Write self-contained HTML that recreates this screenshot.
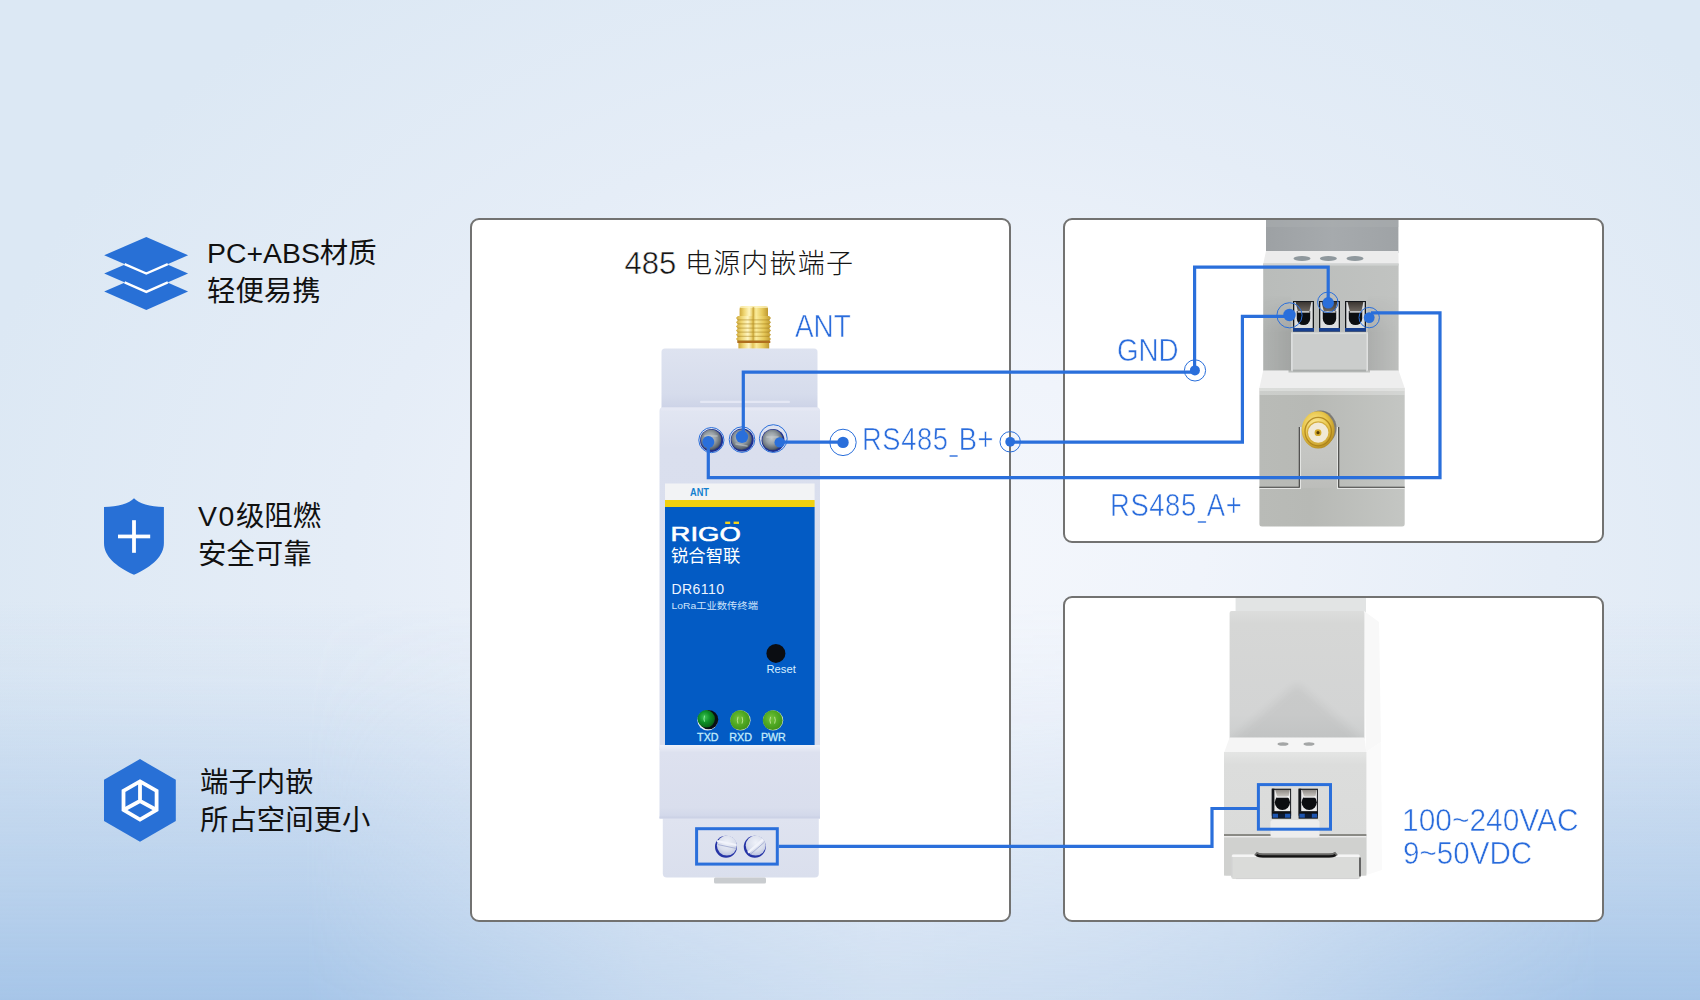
<!DOCTYPE html>
<html lang="zh-CN">
<head>
<meta charset="utf-8">
<title>485 电源内嵌端子</title>
<style>
html,body{margin:0;padding:0}
body{width:1700px;height:1000px;overflow:hidden;position:relative;
  font-family:"Liberation Sans","Noto Sans CJK SC",sans-serif;
  background:radial-gradient(ellipse 1000px 720px at 952px 550px,#f4f7fc 0%,#f0f4fb 25%,#e5edf7 60%,#dce8f4 100%);
}
#bgblue{position:absolute;left:0;top:0;width:1700px;height:1000px;
  background:linear-gradient(180deg,rgba(166,197,232,0) 60%,rgba(166,197,232,.1) 68%,rgba(166,197,232,.3) 75%,rgba(166,197,232,.65) 88.7%,rgba(166,197,232,1) 100%);
  -webkit-mask-image:linear-gradient(90deg,#000 0%,#000 18%,rgba(0,0,0,.75) 26.5%,rgba(0,0,0,.48) 38%,rgba(0,0,0,.32) 52%,rgba(0,0,0,.4) 65%,rgba(0,0,0,.5) 73.5%,rgba(0,0,0,.78) 85%,#000 94%,#000 100%);
  mask-image:linear-gradient(90deg,#000 0%,#000 18%,rgba(0,0,0,.75) 26.5%,rgba(0,0,0,.48) 38%,rgba(0,0,0,.32) 52%,rgba(0,0,0,.4) 65%,rgba(0,0,0,.5) 73.5%,rgba(0,0,0,.78) 85%,#000 94%,#000 100%)}
.panel{position:absolute;box-sizing:border-box;background:#fff;border:2px solid #727271;border-radius:9px}
#pa{left:470px;top:218px;width:541px;height:704px}
#pb{left:1063px;top:218px;width:541px;height:325px}
#pc{left:1063px;top:596px;width:541px;height:326px}
#art{position:absolute;left:0;top:0;width:1700px;height:1000px}
.feat{position:absolute;color:#111;font-size:28.4px;line-height:38.8px;white-space:nowrap;font-weight:400}
.lbl .us{display:inline-block;margin:0 -3.2px;transform:translate(0,1.3px) scaleX(.52)}
.lbl.rs{letter-spacing:.65px}
.title{position:absolute;color:#151515;font-size:27px;letter-spacing:1.2px;white-space:nowrap;line-height:32px;font-weight:300}
.title .num{font-size:31px;letter-spacing:0;position:relative;top:1px;font-weight:400;-webkit-text-stroke:.5px #fff}
.lbl{position:absolute;color:#2a6cdc;font-size:30.6px;line-height:32px;white-space:nowrap;transform-origin:0 0;-webkit-text-stroke:.55px #fff}
</style>
</head>
<body>
<div id="bgblue"></div>
<div class="panel" id="pa"></div>
<div class="panel" id="pb"></div>
<div class="panel" id="pc"></div>

<svg id="art" width="1700" height="1000" viewBox="0 0 1700 1000">
<defs>
<linearGradient id="gold" x1="0" x2="1" y1="0" y2="0">
  <stop offset="0" stop-color="#cfa93a"/><stop offset=".16" stop-color="#efd672"/>
  <stop offset=".34" stop-color="#fff6c2"/><stop offset=".47" stop-color="#e4c558"/>
  <stop offset=".58" stop-color="#faeb9a"/><stop offset=".8" stop-color="#e6c858"/>
  <stop offset="1" stop-color="#bf9930"/>
</linearGradient>
<linearGradient id="bodyTop" x1="0" x2="0" y1="0" y2="1">
  <stop offset="0" stop-color="#dee3f0"/><stop offset=".7" stop-color="#d6dcec"/><stop offset=".86" stop-color="#cfd5e8"/><stop offset="1" stop-color="#c8cfe5"/>
</linearGradient>
<linearGradient id="bodyMid" x1="0" x2="0" y1="0" y2="1">
  <stop offset="0" stop-color="#e2e6f2"/><stop offset=".12" stop-color="#dadfee"/><stop offset="1" stop-color="#d8dded"/>
</linearGradient>
<linearGradient id="bodyLow" x1="0" x2="0" y1="0" y2="1">
  <stop offset="0" stop-color="#eef1f9"/><stop offset=".1" stop-color="#dde1ef"/><stop offset=".85" stop-color="#d9deed"/><stop offset="1" stop-color="#d0d6e9"/>
</linearGradient>
<linearGradient id="bodyBot" x1="0" x2="0" y1="0" y2="1">
  <stop offset="0" stop-color="#dfe3f0"/><stop offset="1" stop-color="#dadfed"/>
</linearGradient>
<radialGradient id="screw" cx=".45" cy=".42" r=".62">
  <stop offset="0" stop-color="#c3c9cc"/><stop offset=".45" stop-color="#99a1a6"/><stop offset=".82" stop-color="#5f6872"/><stop offset="1" stop-color="#2b3858"/>
</radialGradient>
<radialGradient id="screw2" cx=".5" cy=".35" r=".7">
  <stop offset="0" stop-color="#eef1f9"/><stop offset=".6" stop-color="#d9deec"/><stop offset="1" stop-color="#b4bddd"/>
</radialGradient>
<radialGradient id="ledg" cx=".42" cy=".4" r=".65">
  <stop offset="0" stop-color="#74c23a"/><stop offset=".55" stop-color="#4fa822"/><stop offset="1" stop-color="#3f9018"/>
</radialGradient>
<radialGradient id="ledd" cx=".4" cy=".4" r=".65">
  <stop offset="0" stop-color="#3fc455"/><stop offset=".5" stop-color="#0d8f26"/><stop offset="1" stop-color="#075c16"/>
</radialGradient>
<linearGradient id="bBack" x1="0" x2="1" y1="0" y2="0">
  <stop offset="0" stop-color="#9da1a4"/><stop offset=".5" stop-color="#a6aaad"/><stop offset="1" stop-color="#9fa3a6"/>
</linearGradient>
<linearGradient id="bFront" x1="0" x2="1" y1="0" y2="0">
  <stop offset="0" stop-color="#b9bcba"/><stop offset="1" stop-color="#c1c3c1"/>
</linearGradient>
<linearGradient id="bLow" x1="0" x2="1" y1="0" y2="0">
  <stop offset="0" stop-color="#b9bbb7"/><stop offset=".35" stop-color="#b7b9b5"/><stop offset="1" stop-color="#c4c6c3"/>
</linearGradient>
<radialGradient id="goldR" cx=".42" cy=".38" r=".7">
  <stop offset="0" stop-color="#fff0a8"/><stop offset=".55" stop-color="#e8c548"/><stop offset="1" stop-color="#a97f18"/>
</radialGradient>
<linearGradient id="clamp" x1="0" x2="0" y1="0" y2="1">
  <stop offset="0" stop-color="#3b3632"/><stop offset="1" stop-color="#6d665f"/>
</linearGradient>
<linearGradient id="clampL" x1="0" x2="0" y1="0" y2="1">
  <stop offset="0" stop-color="#8f8b86"/><stop offset="1" stop-color="#c9c6c1"/>
</linearGradient>
<linearGradient id="cUp" x1="0" x2="0" y1="0" y2="1">
  <stop offset="0" stop-color="#dcdddc"/><stop offset=".1" stop-color="#d6d7d6"/><stop offset=".8" stop-color="#d3d4d4"/><stop offset="1" stop-color="#cccece"/>
</linearGradient>
<linearGradient id="cLow" x1="0" x2="0" y1="0" y2="1">
  <stop offset="0" stop-color="#e4e5e4"/><stop offset=".1" stop-color="#dcdddc"/><stop offset="1" stop-color="#d9dad9"/>
</linearGradient>
<clipPath id="clipB"><rect x="1065" y="220" width="537" height="321" rx="7"/></clipPath>
<clipPath id="clipC"><rect x="1065" y="598" width="537" height="322" rx="7"/></clipPath>
<g id="slot3">
  <rect x="0" y="0" width="21" height="30.5" fill="#14171b"/>
  <rect x="1.3" y="1" width="18.4" height="26" fill="#dcdedf"/>
  <path d="M3.8 10 H17.2 V17.4 A6.7 6.7 0 0 1 3.8 17.4 Z" fill="#0c0e11"/>
  <polygon points="2.6,1 18.4,1 16.4,10.3 4.8,10.3" fill="url(#clamp)"/>
  <rect x="4.6" y="10.2" width="12" height="1.4" fill="#e8e8e8"/>
  <rect x="0" y="27" width="21" height="3.5" fill="#173f8e"/>
</g>
<g id="slot2">
  <rect x="0" y="0" width="19.3" height="30" fill="#14171b"/>
  <rect x="1" y="1.2" width="17.3" height="21.6" fill="#e9e9e9"/>
  <rect x="0" y="0" width="2.6" height="22.8" fill="#14171b"/>
  <circle cx="10.6" cy="13.6" r="7.6" fill="#0b0d10"/>
  <polygon points="3.4,1.2 18,1.2 16.8,7.8 5.4,7.8" fill="url(#clampL)"/>
  <rect x="5" y="7.5" width="12.2" height="1.5" fill="#f6f6f6"/>
  <rect x="0" y="22.6" width="19.3" height="4.4" fill="#0f1114"/>
  <rect x="0.8" y="25" width="5.5" height="4" fill="#1d55b0"/><rect x="13" y="25" width="5.5" height="4" fill="#1d55b0"/>
  <rect x="6.3" y="25" width="6.7" height="4" fill="#0c1a33"/>
</g>
<filter id="blur5" x="-20%" y="-20%" width="140%" height="140%"><feGaussianBlur stdDeviation="5"/></filter>
<clipPath id="clipCU"><rect x="1229.6" y="611" width="134.8" height="129"/></clipPath>
<linearGradient id="bCol" x1="0" x2="0" y1="0" y2="1"><stop offset="0" stop-color="#c8c9c6"/><stop offset=".6" stop-color="#c3c4c1"/><stop offset="1" stop-color="#bcbdba"/></linearGradient>
<linearGradient id="shL" x1="0" x2="1" y1="0" y2="0"><stop offset="0" stop-color="#000" stop-opacity="0.05"/><stop offset="1" stop-color="#000" stop-opacity=".13"/></linearGradient>
<linearGradient id="shR" x1="0" x2="1" y1="0" y2="0"><stop offset="0" stop-color="#000" stop-opacity=".1"/><stop offset="1" stop-color="#000" stop-opacity="0.02"/></linearGradient>
<linearGradient id="vfade" x1="0" x2="0" y1="0" y2="1"><stop offset="0" stop-color="#fff" stop-opacity="0"/><stop offset=".5" stop-color="#fff" stop-opacity="1"/><stop offset="1" stop-color="#fff" stop-opacity="1"/></linearGradient>
<mask id="mfade" maskUnits="userSpaceOnUse" x="1260" y="295" width="145" height="80"><rect x="1260" y="295" width="145" height="76" fill="url(#vfade)"/></mask>
<!--DEFS-->
</defs>
<g id="icons">
  <!-- layers icon -->
  <polygon points="146.3,273.3 188.1,291.6 146.3,309.9 104.2,291.6" fill="#2870d6"/>
  <polygon points="146.3,255.2 188.1,273.5 146.3,291.7 104.2,273.5" fill="#2870d6"/>
  <polyline points="124.6,282.4 146.3,291.9 167.8,282.4" fill="none" stroke="#ffffff" stroke-width="2.3"/>
  <polygon points="146.3,236.9 188.1,255.2 146.3,273.4 104.2,255.2" fill="#2870d6"/>
  <polyline points="124.6,264.1 146.3,273.6 167.8,264.1" fill="none" stroke="#ffffff" stroke-width="2.3"/>
  <!-- shield icon -->
  <path d="M134 498.2 C138.5 503 150 507 163.9 507 L163.9 543 C163.9 556 153 566 134 574.8 C115 566 104 556 104 543 L104 507 C118 507 129.5 503 134 498.2 Z" fill="#2870d6"/>
  <rect x="118" y="534.6" width="32.2" height="3.7" fill="#fff"/>
  <rect x="132.1" y="520.2" width="3.8" height="32.6" fill="#fff"/>
  <!-- hexagon cube icon -->
  <polygon points="140,759.1 175.8,779.7 175.8,820.9 140,841.8 104,820.9 104,779.7" fill="#2870d6"/>
  <polygon points="140,781.4 156.6,790.8 156.6,810 140,819.6 123.5,810 123.5,790.8" fill="none" stroke="#fff" stroke-width="3.8" stroke-linejoin="miter"/>
  <path d="M140 781.4 L140 801 M140 801 L123.5 810 M140 801 L156.6 810" fill="none" stroke="#fff" stroke-width="3.8"/>
</g>

<g id="devA">
  <!-- SMA connector -->
  <path d="M739.6 316.5 L739.6 309 Q739.6 306 742.6 306 L765 306 Q768 306 768 309 L768 316.5 Z" fill="url(#gold)"/>
  <rect x="739.6" y="306" width="28.4" height="2" rx="1" fill="#fff6c8" opacity=".7"/>
  <polygon points="737.9,316.0 736.0,318.1 737.9,320.2 736.0,322.2 737.9,324.3 736.0,326.4 737.9,328.5 736.0,330.6 737.9,332.7 736.0,334.8 737.9,336.8 736.0,338.9 737.9,341.0 769.1,341.0 771.0,338.9 769.1,336.8 771.0,334.8 769.1,332.7 771.0,330.6 769.1,328.5 771.0,326.4 769.1,324.3 771.0,322.2 769.1,320.2 771.0,318.1 769.1,316.0" fill="url(#gold)"/>
  <g stroke="#a07a18" stroke-opacity=".42" stroke-width="1.2"><line x1="737" x2="770" y1="319.8" y2="319.8"/><line x1="737" x2="770" y1="323.9" y2="323.9"/><line x1="737" x2="770" y1="328.1" y2="328.1"/><line x1="737" x2="770" y1="332.2" y2="332.2"/><line x1="737" x2="770" y1="336.4" y2="336.4"/><line x1="737" x2="770" y1="340.6" y2="340.6"/></g>
  <rect x="752.6" y="307" width="1.6" height="34" fill="#b8912a" opacity=".55"/>
  <rect x="737.3" y="340.8" width="33" height="2.2" fill="#b06f1d"/>
  <rect x="738.4" y="343" width="30.8" height="5.8" fill="url(#gold)"/>
  <!-- upper body -->
  <path d="M661.5 414 L661.5 352 Q661.5 348.5 665 348.5 L814 348.5 Q817.5 348.5 817.5 352 L817.5 414 Z" fill="url(#bodyTop)"/>
  <rect x="700" y="400.8" width="90" height="2.2" rx="1.1" fill="#e6e9f5" opacity=".9"/>
  <!-- terminal zone + middle body -->
  <path d="M659.5 750 L659.5 411 Q659.5 407.5 662.5 407.5 L817 407.5 Q820 407.5 820 411 L820 750 Z" fill="url(#bodyMid)"/>
  <rect x="660.5" y="407.5" width="158.5" height="3" rx="1.5" fill="#e5e8f4"/>
  <!-- lower body -->
  <rect x="659.5" y="745" width="160.5" height="73.5" fill="url(#bodyLow)"/>
  <path d="M662.8 818 L818.8 818 L818.8 873.6 Q818.8 877.6 814.8 877.6 L666.8 877.6 Q662.8 877.6 662.8 873.6 Z" fill="url(#bodyBot)"/>
  <rect x="659.5" y="816.5" width="160.5" height="2" fill="#ccd2e6"/>
  <rect x="714" y="877.6" width="52" height="6" rx="1.5" fill="#c9cccf"/>
  <!-- screws top -->
  <circle cx="711.6" cy="440.4" r="11.5" fill="#1c2f92"/><circle cx="711.1" cy="439.9" r="10.3" fill="url(#screw)"/>
  <circle cx="742.2" cy="440" r="11.5" fill="#1c2f92"/><circle cx="741.6" cy="439.6" r="10.3" fill="url(#screw)"/>
  <circle cx="773" cy="440.4" r="11.5" fill="#1c2f92"/><circle cx="772.6" cy="439.9" r="10.3" fill="url(#screw)"/>
  <g stroke="#c9ced2" stroke-width="1.6" stroke-linecap="round" opacity=".55">
    <line x1="705" y1="436" x2="717" y2="436"/><line x1="736" y1="444" x2="747" y2="446"/><line x1="767" y1="437" x2="778" y2="437"/>
  </g>
  <!-- label -->
  <rect x="665" y="483.5" width="149.6" height="17" fill="#f2f3f5"/>
  <rect x="665" y="500" width="149.6" height="7" fill="#f2d10e"/>
  <rect x="665" y="507" width="149.6" height="238" fill="#035bc4"/>
  <text x="690" y="495.8" font-family="'Liberation Sans','Noto Sans CJK SC',sans-serif" font-size="10.8" font-weight="700" fill="#1480cf" textLength="19" lengthAdjust="spacingAndGlyphs">ANT</text>
  <text x="670.6" y="540.8" font-family="'Liberation Sans','Noto Sans CJK SC',sans-serif" font-size="19.5" font-weight="400" fill="#fff" stroke="#fff" stroke-width=".55" textLength="70.2" lengthAdjust="spacingAndGlyphs">RIGO</text>
  <rect x="725.2" y="521.6" width="5" height="2.4" fill="#f5d21a"/><rect x="733.6" y="521.6" width="5.4" height="2.4" fill="#f5d21a"/>
  <text x="671" y="561.6" font-family="'Liberation Sans','Noto Sans CJK SC',sans-serif" font-size="17" font-weight="400" fill="#fff" textLength="69.5" lengthAdjust="spacingAndGlyphs">锐合智联</text>
  <text x="671.5" y="593.6" font-family="'Liberation Sans','Noto Sans CJK SC',sans-serif" font-size="14" fill="#eef5ff" textLength="52.5" lengthAdjust="spacing">DR6110</text>
  <text x="671.5" y="608.6" font-family="'Liberation Sans','Noto Sans CJK SC',sans-serif" font-size="9.4" fill="#cfe4fb" textLength="86.5" lengthAdjust="spacingAndGlyphs">LoRa工业数传终端</text>
  <circle cx="775.9" cy="653.4" r="9.5" fill="#0b0d12"/>
  <text x="766.5" y="672.9" font-family="'Liberation Sans','Noto Sans CJK SC',sans-serif" font-size="11" fill="#d6eeff" textLength="29.3" lengthAdjust="spacingAndGlyphs">Reset</text>
  <!-- LEDs -->
  <circle cx="707.6" cy="720.4" r="10.2" fill="#e6ecf6"/><circle cx="708.6" cy="719.6" r="9.7" fill="#0a0f14"/><circle cx="706.2" cy="718.8" r="8.7" fill="url(#ledd)"/>
  <path d="M704.6 715.6 Q703.4 718.6 704.6 721.6" stroke="#7fe596" stroke-width="1.1" fill="none"/>
  <circle cx="740.5" cy="720.3" r="10.1" fill="#cfe3c0"/><circle cx="740.1" cy="720.2" r="9.9" fill="url(#ledg)"/>
  <circle cx="773.1" cy="720.3" r="10.1" fill="#cfe3c0"/><circle cx="772.7" cy="720.2" r="9.9" fill="url(#ledg)"/>
  <g stroke="#c9eaa0" stroke-width="1" fill="none" opacity=".85">
    <path d="M738 716.8 Q736.6 720.2 738 723.6"/><path d="M742 716.8 Q743.4 720.2 742 723.6"/>
    <path d="M770.6 716.8 Q769.2 720.2 770.6 723.6"/><path d="M774.6 716.8 Q776 720.2 774.6 723.6"/>
  </g>
  <g font-family="'Liberation Sans','Noto Sans CJK SC',sans-serif" font-size="11" fill="#c4ecfb" stroke="#c4ecfb" stroke-width=".3">
    <text x="697.1" y="741.1" textLength="21.4" lengthAdjust="spacingAndGlyphs">TXD</text>
    <text x="729.2" y="741.1" textLength="22.8" lengthAdjust="spacingAndGlyphs">RXD</text>
    <text x="760.9" y="741.1" textLength="24.9" lengthAdjust="spacingAndGlyphs">PWR</text>
  </g>
  <!-- bottom screws -->
  <circle cx="726" cy="846.8" r="11" fill="#2533a6"/><circle cx="726.9" cy="845.6" r="10" fill="url(#screw2)"/>
  <circle cx="754.8" cy="846.8" r="11" fill="#2533a6"/><circle cx="755.7" cy="845.6" r="10" fill="url(#screw2)"/>
  <line x1="717" y1="841" x2="736.4" y2="845" stroke="#f1f3fb" stroke-width="2.2"/>
  <line x1="718" y1="844.6" x2="736" y2="848.4" stroke="#aab3d6" stroke-width="1"/>
  <line x1="748" y1="852.6" x2="763" y2="839.6" stroke="#f1f3fb" stroke-width="2.2"/>
  <line x1="750.6" y1="854.2" x2="764.6" y2="842" stroke="#aab3d6" stroke-width="1"/>
</g>

<g id="devB" clip-path="url(#clipB)">
  <rect x="1266" y="215" width="132.4" height="38" fill="url(#bBack)"/>
  <rect x="1266" y="215" width="132.4" height="12" fill="#a9adb0" opacity=".5"/>
  <polygon points="1266,251 1398.4,251 1398.6,264 1263.2,264" fill="#ececec"/>
  <ellipse cx="1302" cy="258.6" rx="8.5" ry="2.5" fill="#8f989d"/>
  <ellipse cx="1328.4" cy="258.6" rx="8.5" ry="2.5" fill="#8f989d"/>
  <ellipse cx="1355" cy="258.6" rx="8.5" ry="2.5" fill="#8f989d"/>
  <rect x="1263.2" y="263.6" width="135.4" height="110" fill="url(#bFront)"/>
  <rect x="1263.2" y="263.6" width="135.4" height="2" fill="#d0d2d1"/>
  <!-- terminals -->
  <use href="#slot3" x="1293" y="301"/>
  <use href="#slot3" x="1319" y="301"/>
  <use href="#slot3" x="1345" y="301"/>
  <!-- protruding block -->
  <g mask="url(#mfade)"><rect x="1263.2" y="295" width="28" height="75.5" fill="url(#shL)"/><rect x="1367.8" y="295" width="30.8" height="75.5" fill="url(#shR)"/></g>
  <rect x="1291.3" y="332.5" width="76.5" height="38.8" fill="#cbcdcc"/>
  <rect x="1291.3" y="332.5" width="1.2" height="38" fill="#e6e7e7"/><rect x="1366.6" y="332.5" width="1.2" height="38" fill="#e6e7e7"/>
  <rect x="1291.3" y="332.5" width="76.5" height="1.6" fill="#d9dbda"/>
  <rect x="1293" y="369.6" width="73" height="2" fill="#a9acab"/>
  <!-- lower block -->
  <polygon points="1263.2,370.5 1288.5,370.5 1288.5,372.5 1370,372.5 1370,370.5 1398.6,370.5 1404.7,388 1259.4,388" fill="#eeeeee"/>
  <path d="M1259.4 388 L1404.7 388 L1404.7 524 Q1404.7 526.5 1402 526.5 L1262 526.5 Q1259.4 526.5 1259.4 524 Z" fill="url(#bLow)"/>
  <rect x="1259.4" y="388" width="145.3" height="7" fill="#fff" opacity=".28"/>
  <rect x="1259.4" y="388" width="145.3" height="3" fill="#fff" opacity=".3"/>
  <rect x="1299.4" y="427" width="39.2" height="61" fill="url(#bCol)"/>
  <path d="M1259.4 488.3 H1300.3 V427 M1337.7 427 V488.3 H1404.7" fill="none" stroke="#e4e5e3" stroke-width="1.4"/>
  <path d="M1259.4 487.2 H1299.3 V427 M1338.7 427 V487.2 H1404.7" fill="none" stroke="#3e3e3c" stroke-width="1.1"/>
  <!-- SMA front -->
  <ellipse cx="1320.5" cy="428" rx="16" ry="17.5" fill="#4a4640" opacity=".55"/>
  <ellipse cx="1318.2" cy="429.9" rx="16.5" ry="18.7" fill="url(#goldR)"/>
  <ellipse cx="1318.2" cy="431.6" rx="13.2" ry="14.2" fill="none" stroke="#a87c16" stroke-width="1.3" opacity=".8"/>
  <circle cx="1318.2" cy="432.6" r="10.8" fill="#f1e9d6"/>
  <circle cx="1318.2" cy="432.6" r="10.8" fill="none" stroke="#d3ad3d" stroke-width="1.2"/>
  <circle cx="1318" cy="432.7" r="3.4" fill="#d4aa2c"/><circle cx="1318" cy="432.7" r="1.6" fill="#5a3f08"/>
</g>

<g id="devC" clip-path="url(#clipC)">
  <rect x="1235.6" y="590" width="130.4" height="24" fill="#e2e4e4"/>
  <polygon points="1364,611 1379,622 1381,742 1366,752" fill="#f8f8f8"/>
  <polygon points="1366,752 1381,742 1382,870 1366.4,875" fill="#fafafa"/>
  <rect x="1229.6" y="611" width="134.8" height="129" rx="2" fill="url(#cUp)"/>
  <g clip-path="url(#clipCU)"><polygon points="1297,684 1372,748 1222,748" fill="#000" opacity=".05" filter="url(#blur5)"/></g>
  <polygon points="1229.6,737.5 1364.4,737.5 1366.4,753 1224,753" fill="#f5f5f5"/>
  <ellipse cx="1283" cy="744" rx="5.5" ry="1.8" fill="#a4a6a6"/>
  <ellipse cx="1309" cy="744" rx="5.5" ry="1.8" fill="#a4a6a6"/>
  <path d="M1224 752 L1366.4 752 L1366.4 873 Q1366.4 875.5 1364 875.5 L1226.5 875.5 Q1224 875.5 1224 873 Z" fill="url(#cLow)"/>
  <rect x="1224" y="835.6" width="142.4" height="40" fill="#d0d1cf"/>
  <line x1="1224" x2="1366.4" y1="835" y2="835" stroke="#6f6f68" stroke-width="1.3"/>
  <rect x="1224" y="836" width="142.4" height="1.4" fill="#ebebeb"/>
  <!-- terminals -->
  <use href="#slot2" x="1271.8" y="788.7"/>
  <use href="#slot2" x="1298.6" y="788.7"/>
  <rect x="1270.5" y="820" width="49" height="17.5" rx="2.5" fill="#ededed"/>
  <!-- bottom clip -->
  <rect x="1231.3" y="854.5" width="129" height="24.5" rx="2" fill="#dadbd9"/>
  <rect x="1232" y="854.5" width="127.6" height="2.6" rx="1.2" fill="#f5f5f5"/>
  <path d="M1231.9 857 V877" stroke="#cfcfcf" stroke-width="1" fill="none"/>
  <path d="M1255.5 853.4 Q1258 855.4 1263 855.4 L1329 855.4 Q1334 855.4 1336.5 853.4" stroke="#6a6a68" stroke-width="4.4" fill="none"/>
  <path d="M1256.5 855 Q1258.5 856.4 1263 856.4 L1329 856.4 Q1333.5 856.4 1335.5 855" stroke="#121212" stroke-width="2.4" fill="none"/>
  <path d="M1360 857.5 V876.5" stroke="#3c3c3c" stroke-width="1.5" fill="none"/>
  <path d="M1236 878.6 H1358" stroke="#d2d2d2" stroke-width="1" fill="none"/>
</g>

<g id="lines" fill="none" stroke="#2a6fdb" stroke-width="3.2" stroke-linejoin="miter">
  <!-- GND -->
  <path d="M743.3 437 V372.2 H1194.6"/>
  <path d="M1194.6 370.4 V267.2 H1328.2 V302.8"/>
  <!-- RS485_B+ -->
  <path d="M779.7 442.2 H843"/>
  <path d="M1010.2 442.1 H1242.4 V316.3 H1289.5"/>
  <!-- RS485_A+ -->
  <path d="M708.3 442 V477.6 H1440 V312.8 H1371"/>
  <!-- power -->
  <rect x="696.6" y="828.7" width="80.7" height="35.4" stroke-width="3"/>
  <path d="M778.8 846.3 H1212 V808.5 H1257"/>
  <rect x="1258.4" y="784.6" width="72.1" height="44.6" stroke-width="3"/>
</g>
<g id="dots" fill="#2a6fdb" stroke="none">
  <circle cx="708.3" cy="442" r="6"/><circle cx="742" cy="436.8" r="6.2"/><circle cx="779.7" cy="442.4" r="5.2"/>
  <circle cx="843" cy="442.4" r="5.7"/><circle cx="1010.2" cy="441.8" r="4.9"/>
  <circle cx="1194.9" cy="370.4" r="5"/>
  <circle cx="1328.2" cy="302.8" r="5.8"/><circle cx="1289.5" cy="315" r="6.2"/><circle cx="1369.2" cy="317.6" r="5.4"/>
</g>
<g id="rings" fill="none" stroke="#2a6fdb" stroke-width="1">
  <circle cx="711.4" cy="440.1" r="12.6"/><circle cx="742" cy="439.6" r="12.8"/><circle cx="773.3" cy="438.6" r="13.9"/>
  <circle cx="843" cy="442.4" r="13.2"/><circle cx="1010.2" cy="441.8" r="10.2"/>
  <circle cx="1195" cy="370.4" r="10.6"/>
  <circle cx="1327.8" cy="302.3" r="10.2"/><circle cx="1289.5" cy="315.3" r="12.6"/><circle cx="1369.2" cy="317.6" r="10.2"/>
</g>

</svg>

<div class="feat" style="left:207px;top:233.5px">PC+ABS材质<br>轻便易携</div>
<div class="feat" style="left:198px;top:496.5px"><span style="letter-spacing:1.6px">V0</span>级阻燃<br>安全可靠</div>
<div class="feat" style="left:200px;top:762.6px">端子内嵌<br>所占空间更小</div>

<div class="title" style="left:624.5px;top:247px"><span class="num">485</span> 电源内嵌端子</div>

<div class="lbl" style="left:795px;top:309.5px;transform:scaleX(.912)">ANT</div>
<div class="lbl rs" style="left:862px;top:423.4px;transform:scaleX(.894)">RS485<span class="us">_</span>B+</div>
<div class="lbl" style="left:1116.5px;top:333.5px;transform:scaleX(.907)">GND</div>
<div class="lbl rs" style="left:1110px;top:488.5px;transform:scaleX(.896)">RS485<span class="us">_</span>A+</div>
<div class="lbl" style="left:1401.7px;top:804.4px;transform:scaleX(.978)">100~240VAC</div>
<div class="lbl" style="left:1403.3px;top:836.5px;transform:scaleX(.968)">9~50VDC</div>
</body>
</html>
